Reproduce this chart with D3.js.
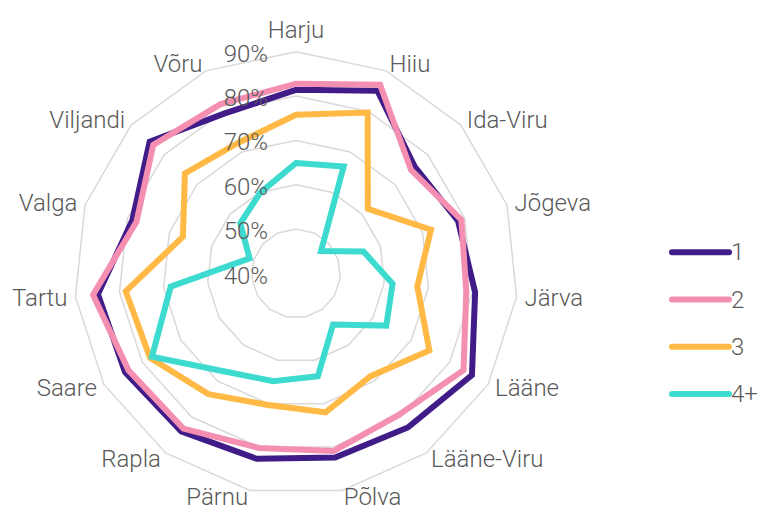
<!DOCTYPE html>
<html><head><meta charset="utf-8">
<script src="https://cdn.jsdelivr.net/npm/d3@7"></script>
<style>
html,body{margin:0;padding:0;background:#fff;}
text{font-family:Roboto,"Noto Sans",sans-serif;font-weight:300;fill:#595959;}
</style></head>
<body><svg id="chart" width="760" height="509"></svg>
<script>
const categories = ["Harju","Hiiu","Ida-Viru","Jõgeva","Järva","Lääne","Lääne-Viru","Põlva","Pärnu","Rapla","Saare","Tartu","Valga","Viljandi","Võru"];
const series1 = [81.4,85.1,76.0,78.4,80.6,85.8,82.9,82.4,82.7,84.0,84.5,84.9,78.8,84.4,79.5];
const series2 = [82.8,86.6,74.9,79.2,78.6,83.6,79.4,80.9,80.2,83.2,83.6,86.0,77.8,83.3,81.8];
const series3 = [75.8,79.7,61.8,72.0,67.5,74.7,68.6,72.0,70.3,73.6,78.0,78.6,66.8,73.7,72.2];
const series4 = [64.9,66.4,47.6,56.0,61.9,63.5,54.2,63.7,64.8,67.3,77.5,68.4,51.0,56.9,59.9];
const seriesNames = ["1","2","3","4+"];
const seriesColors = ["#3f1c87","#f48fb1","#ffb944","#3ddbcf"];
const tickValues = [40,50,60,70,80,90];

const allSeries = [series1,series2,series3,series4];
const svg = d3.select("#chart");
const cx = 296, cy = 273.5, R = 221.8;
const r = d3.scaleLinear().domain([40,90]).range([0,R]);
const step = 2*Math.PI/categories.length;
const ang = (i) => i*step;

const g = svg.append("g").attr("transform",`translate(${cx},${cy})`);

// grid rings
const ringLine = d3.lineRadial().angle((d,i)=>ang(i)).curve(d3.curveLinearClosed);
tickValues.filter(t=>t>40).forEach(t=>{
  g.append("path")
    .attr("d", ringLine.radius(()=>r(t))(categories))
    .attr("fill","none").attr("stroke","#d9d9d9").attr("stroke-width",1.5);
});

// series
allSeries.forEach((s,k)=>{
  const line = d3.lineRadial().angle((d,i)=>ang(i)).radius(d=>r(d)).curve(d3.curveLinearClosed);
  g.append("path").attr("d", line(s))
    .attr("fill","none").attr("stroke",seriesColors[k])
    .attr("stroke-width",6).attr("stroke-linejoin","miter");
});

// category labels
categories.forEach((c,i)=>{
  const a = ang(i);
  const rr = R + 8;
  let x = rr*Math.sin(a), y = -rr*Math.cos(a);
  let anchor = "middle";
  if (Math.sin(a) > 0.01) anchor = "start";
  else if (Math.sin(a) < -0.01) anchor = "end";
  if (i === 0) { y = -R - 22; }
  if (i === 7 || i === 8) { y -= 1; }
  g.append("text").attr("x",x).attr("y",y)
    .attr("text-anchor",anchor).attr("dominant-baseline","central")
    .attr("font-size",24).text(c);
});

// tick labels
tickValues.forEach(t=>{
  g.append("text").attr("x",-28).attr("y",-r(t)+2)
    .attr("text-anchor","end").attr("dominant-baseline","central")
    .attr("font-size",24).text(t+"%");
});

// legend
const lg = svg.append("g");
seriesNames.forEach((n,k)=>{
  const y = 252.3 + k*47.2;
  lg.append("line").attr("x1",672).attr("x2",729).attr("y1",y).attr("y2",y)
    .attr("stroke",seriesColors[k]).attr("stroke-width",6).attr("stroke-linecap","round");
  lg.append("text").attr("x",731).attr("y",y).attr("dominant-baseline","central")
    .attr("font-size",24).text(n);
});
</script></body></html>
